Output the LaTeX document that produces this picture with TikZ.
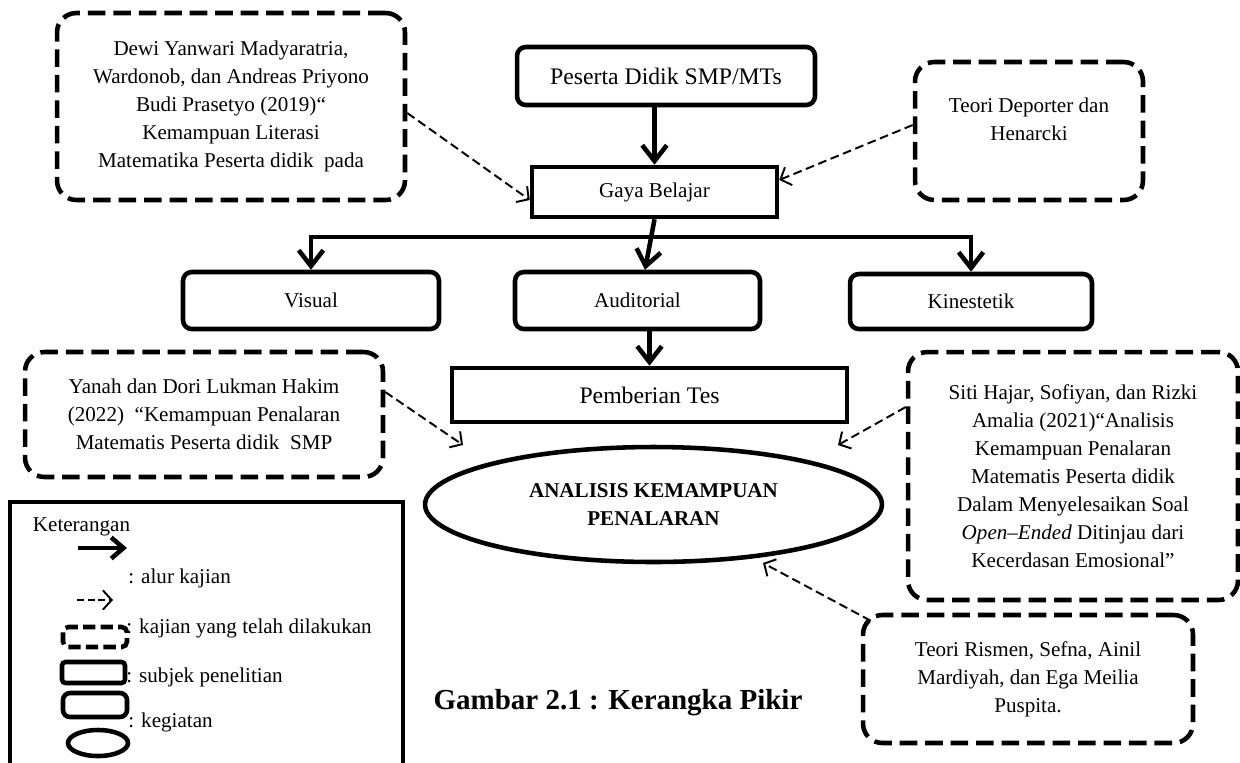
\documentclass[tikz,border=0pt]{standalone}
\usepackage{fontspec}
\setmainfont{Liberation Serif}
\usetikzlibrary{positioning,shapes.geometric,arrows.meta}
\newcommand\kpfont{\fontsize{12}{16}\selectfont}
\newcommand\kpbig{\fontsize{13.5}{16}\selectfont}

\begin{document}
\begin{tikzpicture}[x=0.02cm,y=-0.02cm,font=\kpfont,
      flow/.style={line width=2.6pt,-{Straight Barb[length=9pt,width=14pt]}},
      study/.style={line width=1.1pt,dash pattern=on 5pt off 2.6pt,-{Straight Barb[length=5pt,width=11pt]}},
      kajian/.style={draw,line width=2.6pt,dash pattern=on 10pt off 4.5pt,rounded corners=11pt,align=center,inner sep=0pt},
      subjek/.style={draw,line width=2.6pt,rounded corners=5pt,align=center,inner sep=0pt},
      kegiatan/.style={draw,line width=2.6pt,align=center,inner sep=0pt}]
      \useasboundingbox (0,0) rectangle (1240,762);
      % kajian yang telah dilakukan
      \node[kajian,minimum width=6.96cm,minimum height=3.74cm] (dewi) at (231,106.5)
        {Dewi Yanwari Madyaratria,\\ Wardonob, dan Andreas Priyono\\ Budi Prasetyo (2019)“\\ Kemampuan Literasi\\ Matematika Peserta didik\ \ pada};
      \node[kajian,minimum width=4.56cm,minimum height=2.76cm] (deporter) at (1029,131) {};
      \node[align=center] (deportertext) at ([yshift=0.23cm]deporter.center) {Teori Deporter dan\\ Henarcki};
      \node[kajian,minimum width=7.16cm,minimum height=2.5cm] (yanah) at (204,414.5)
        {Yanah dan Dori Lukman Hakim\\ (2022)\ \ “Kemampuan Penalaran\\ Matematis Peserta didik\ \ SMP};
      \node[kajian,minimum width=6.6cm,minimum height=4.96cm] (siti) at (1073,476)
        {Siti Hajar, Sofiyan, dan Rizki\\ Amalia (2021)“Analisis\\ Kemampuan Penalaran\\ Matematis Peserta didik\\ Dalam Menyelesaikan Soal\\ \textit{Open–Ended} Ditinjau dari\\ Kecerdasan Emosional”};
      \node[kajian,minimum width=6.6cm,minimum height=2.56cm] (rismen) at (1028,679)
        {Teori Rismen, Sefna, Ainil\\ Mardiyah, dan Ega Meilia\\ Puspita.};
      % alur utama
      \node[subjek,font=\kpbig,minimum width=5.96cm,minimum height=1.16cm] (peserta) at (666,76) {Peserta Didik SMP/MTs};
      \node[kegiatan,minimum width=4.9cm,minimum height=1cm] (gaya) at (654.5,192) {Gaya Belajar};
      \node[subjek,minimum width=5.12cm,minimum height=1.14cm] (visual) at (311,300.5) {Visual};
      \node[subjek,minimum width=4.9cm,minimum height=1.14cm] (auditorial) at (637.5,300.5) {Auditorial};
      \node[subjek,minimum width=4.84cm,minimum height=1.1cm] (kinestetik) at (971,301.5) {Kinestetik};
      \node[kegiatan,font=\kpbig,minimum width=7.9cm,minimum height=1.08cm] (pemberian) at (649.5,395) {Pemberian Tes};
      \node[ellipse,draw,line width=2.6pt,inner sep=0pt,align=center,font=\kpfont\bfseries,
        minimum width=9.14cm,minimum height=2.3cm] (analisis) at (653.5,504.5) {ANALISIS KEMAMPUAN\\ PENALARAN};
      \node[font=\fontsize{16.5}{19}\selectfont\bfseries] (caption) at (618,703) {Gambar 2.1 : Kerangka Pikir};
      \coordinate (split) at (640,237);
      \coordinate (tipL) at (463,445);
      \coordinate (tipR) at (838,445);
      \coordinate (tipB) at (763,563);
      \draw[flow] (peserta.south -| gaya.north) -- (gaya.north);
      \draw[flow] (split) -| (visual.north);
      \draw[flow] (split) -| (kinestetik.north);
      \draw[flow] (gaya.south) -- ([xshift=0.15cm]auditorial.north);
      \draw[flow] (auditorial.south -| pemberian.north) -- (pemberian.north);
      % kajian -> alur
      \draw[study] ([yshift=-0.13cm]dewi.east) -- ([yshift=-0.16cm]gaya.west);
      \draw[study] ([yshift=0.12cm]deporter.west) -- ([yshift=0.24cm]gaya.east);
      \draw[study] ([yshift=0.45cm]yanah.east) -- (tipL);
      \draw[study] ([yshift=1.38cm]siti.west) -- (tipR);
      \draw[study] ([xshift=0.2cm,yshift=-0.16cm]rismen.north west) -- (tipB);
      % keterangan
      \draw[line width=2.2pt] (10,770) -- (10,502) -- (403,502) -- (403,770);
      \node (legtitle) at (81.5,527) {Keterangan};
      \draw[line width=2.6pt,-{Straight Barb[length=7pt,width=12pt]}] (78,548) -- (127,548);
      \node[anchor=west,inner sep=0pt] (legflow) at (128,578) {: alur kajian};
      \draw[line width=1.1pt,dash pattern=on 4pt off 2pt,-{Straight Barb[length=5pt,width=11pt]}] (77,600) -- (113,600);
      \draw[line width=2.6pt,dash pattern=on 7pt off 3pt,rounded corners=3pt] (63,627) rectangle (127,647);
      \node[anchor=west,inner sep=0pt] (legkajian) at (126,628) {: kajian yang telah dilakukan};
      \draw[line width=2.6pt,rounded corners=2pt] (62,662) rectangle (125,683);
      \node[anchor=west,inner sep=0pt] (legsubjek) at (126,677) {: subjek penelitian};
      \draw[line width=2.6pt,rounded corners=4pt] (63,693) rectangle (127,717);
      \node[anchor=west,inner sep=0pt] (legkegiatan) at (128,722) {: kegiatan};
      \draw[line width=2.6pt] (98,743) ellipse [x radius=30,y radius=13];
\end{tikzpicture}
\end{document}
